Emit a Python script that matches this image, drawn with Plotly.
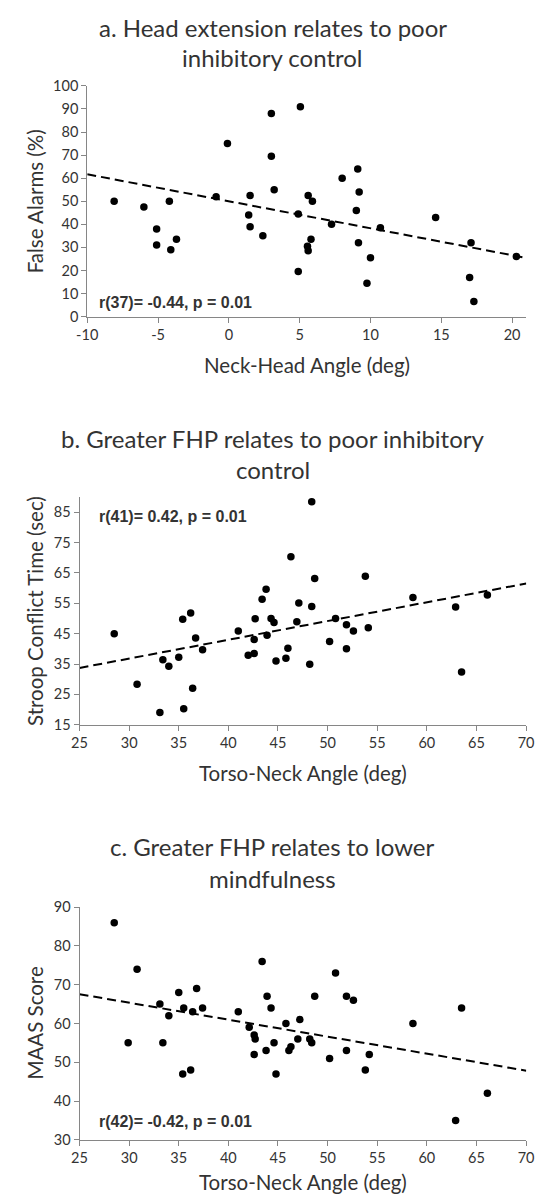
import plotly.graph_objects as go

# ---------------- data ----------------
a_x = [-8.1, -6.0, -4.2, -5.1, -5.1, -4.1, -3.7, -0.9, -0.1, 1.5, 1.4, 1.5, 2.4, 3.0, 3.0, 3.2,
       4.9, 4.9, 5.05, 5.6, 5.9, 5.55, 5.6, 5.8, 7.25, 8.0, 9.0, 9.1, 9.2, 9.15, 9.75, 10.0,
       10.7, 14.6, 17.0, 17.3, 17.1, 20.3]
a_y = [50, 47.5, 50, 38, 31, 29, 33.5, 52, 75, 52.5, 44, 39, 35, 88, 69.5, 55,
       44.5, 19.5, 91, 52.5, 50, 30.5, 28.5, 33.5, 40, 60, 46, 64, 54, 32, 14.5, 25.5,
       38.5, 43, 17, 6.5, 32, 26]

b_x = [28.5, 30.8, 33.1, 33.4, 34.0, 35.0, 35.4, 35.5, 36.2, 36.4, 36.7, 37.4, 41.0, 42.0,
       42.6, 42.6, 42.7, 43.4, 43.8, 43.9, 44.3, 44.6, 44.8, 45.8, 46.0, 46.3, 46.9, 47.1,
       48.2, 48.4, 48.4, 48.7, 50.2, 50.8, 51.9, 51.9, 52.6, 53.8, 54.1, 58.6, 62.9, 63.5, 66.1]
b_y = [45, 28.3, 19, 36.4, 34.3, 37.2, 49.7, 20.3, 51.8, 27, 43.6, 39.7, 45.9, 37.9,
       38.5, 43.1, 49.9, 56.3, 59.6, 44.5, 50, 48.7, 36, 36.9, 40.2, 70.3, 48.9, 55.1,
       34.9, 53.9, 88.4, 63.2, 42.4, 50, 40, 47.9, 45.9, 63.9, 46.9, 56.9, 53.8, 32.4, 57.7]

c_x = [28.5, 29.9, 30.8, 33.1, 33.4, 34.0, 35.0, 35.4, 35.5, 36.2, 36.4, 36.8, 37.4, 41.0,
       42.1, 42.6, 42.7, 42.6, 43.4, 43.9, 43.8, 44.3, 44.6, 44.8, 45.8, 46.1, 46.3, 47.0,
       47.2, 48.2, 48.4, 48.7, 50.2, 50.8, 51.9, 51.9, 52.6, 53.8, 54.2, 58.6, 62.9, 63.5, 66.1]
c_y = [86, 55, 74, 65, 55, 62, 68, 47, 64, 48, 63, 69, 64, 63,
       59, 57, 56, 52, 76, 67, 53, 64, 55, 47, 60, 53, 54, 56,
       61, 56, 55, 67, 51, 73, 67, 53, 66, 48, 52, 60, 35, 64, 42]

# linear trend lines (slope, intercept)
trend_a = (-1.17, 50.0)
trend_b = (0.618, 18.25)
trend_c = (-0.438, 78.5)

# tick values / labels
a_xticks = [-10, -5, 0, 5, 10, 15, 20]
a_xlabels = ["-10", "-5", "0", "5", "10", "15", "20"]
a_yticks = [0, 10, 20, 30, 40, 50, 60, 70, 80, 90, 100]
bc_xticks = [25, 30, 35, 40, 45, 50, 55, 60, 65, 70]
b_yticks = [15, 25, 35, 45, 55, 65, 75, 85]
c_yticks = [30, 40, 50, 60, 70, 80, 90]

titles = [["a. Head extension relates to poor", "inhibitory control"],
          ["b. Greater FHP relates to poor inhibitory", "control"],
          ["c. Greater FHP relates to lower", "mindfulness"]]
x_titles = ["Neck-Head Angle (deg)", "Torso-Neck Angle (deg)", "Torso-Neck Angle (deg)"]
y_titles = ["False Alarms (%)", "Stroop Conflict Time (sec)", "MAAS Score"]
stats = ["r(37)= -0.44, p = 0.01", "r(41)= 0.42, p = 0.01", "r(42)= -0.42, p = 0.01"]

# ---------------- layout geometry (pixels) ----------------
W, H = 542, 1203
FONT = "Lato"
TXT = "#333333"
AX = "#868686"

def px_x(p):
    return p / W

def px_y(p):
    return 1 - p / H

panels = [
    dict(x=a_x, y=a_y, trend=trend_a, xr=[-10, 21], yr=[0, 100.01], xt=a_xticks, xl=a_xlabels,
         yt=a_yticks, left=79, right=534, top=78, bottom=312,
         t1=19, t2=49, xtitle=361, stat=(-9.3, 6)),
    dict(x=b_x, y=b_y, trend=trend_b, xr=[25, 70.02], yr=[15, 90], xt=bc_xticks,
         xl=[str(v) for v in bc_xticks],
         yt=b_yticks, left=71, right=534, top=495, bottom=726,
         t1=436, t2=467, xtitle=775, stat=(26.8, 83.5)),
    dict(x=c_x, y=c_y, trend=trend_c, xr=[25, 70.02], yr=[30, 90.01], xt=bc_xticks,
         xl=[str(v) for v in bc_xticks],
         yt=c_yticks, left=71, right=534, top=911, bottom=1147,
         t1=850, t2=882, xtitle=1190, stat=(26.8, 34.7)),
]

fig = go.Figure()
annotations = []
layout_axes = {}

for i, p in enumerate(panels):
    n = "" if i == 0 else str(i + 1)
    xa, ya = "x" + n, "y" + n
    fig.add_trace(go.Scatter(x=p["x"], y=p["y"], mode="markers", xaxis=xa, yaxis=ya,
                             marker=dict(color="black", size=7.5), showlegend=False,
                             hoverinfo="skip"))
    m, b = p["trend"]
    x0, x1 = p["xr"]
    fig.add_trace(go.Scatter(x=[x0, x1], y=[m * x0 + b, m * x1 + b], mode="lines",
                             xaxis=xa, yaxis=ya,
                             line=dict(color="black", width=2, dash="9px,5px"),
                             showlegend=False, hoverinfo="skip"))
    common = dict(showgrid=False, zeroline=False, showline=True, linecolor=AX, linewidth=1,
                  ticks="outside", ticklen=5, tickcolor=AX, tickwidth=1,
                  ticklabeloverflow="allow",
                  tickfont=dict(family=FONT, size=14.5, color=TXT), fixedrange=True)
    layout_axes["xaxis" + n] = dict(common, domain=[px_x(p["left"]), px_x(p["right"])],
                                    range=p["xr"], tickmode="array", tickvals=p["xt"],
                                    ticktext=p["xl"], anchor=ya)
    layout_axes["yaxis" + n] = dict(common, domain=[px_y(p["bottom"]), px_y(p["top"])],
                                    range=p["yr"], tickmode="array", tickvals=p["yt"],
                                    anchor=xa)
    cx = (p["left"] + p["right"]) / 2
    annotations += [
        dict(text=titles[i][0], x=0.5, y=px_y(p["t1"]), xref="paper", yref="paper",
             showarrow=False, xanchor="center", yanchor="middle",
             font=dict(family=FONT, size=24, color=TXT)),
        dict(text=titles[i][1], x=0.5, y=px_y(p["t2"]), xref="paper", yref="paper",
             showarrow=False, xanchor="center", yanchor="middle",
             font=dict(family=FONT, size=24, color=TXT)),
        dict(text=x_titles[i], x=px_x(cx), y=px_y(p["xtitle"]), xref="paper", yref="paper",
             showarrow=False, xanchor="center", yanchor="middle",
             font=dict(family=FONT, size=20.5, color=TXT)),
        dict(text=y_titles[i], x=px_x(25), y=px_y((p["top"] + p["bottom"]) / 2),
             xref="paper", yref="paper", textangle=-90,
             showarrow=False, xanchor="center", yanchor="middle",
             font=dict(family=FONT, size=20.5, color=TXT)),
        dict(text="<b>" + stats[i] + "</b>", x=p["stat"][0], y=p["stat"][1], xref=xa, yref=ya,
             showarrow=False, xanchor="left", yanchor="middle",
             font=dict(family="Liberation Sans, Arial", size=16, color=TXT)),
    ]

fig.update_layout(width=W, height=H, margin=dict(l=0, r=0, t=0, b=0),
                  paper_bgcolor="white", plot_bgcolor="white",
                  annotations=annotations, **layout_axes)

fig.write_html("out.html")
